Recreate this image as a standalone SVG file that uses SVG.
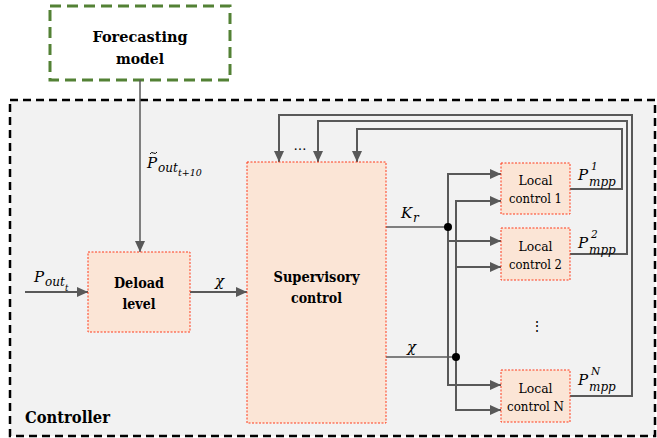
<svg xmlns="http://www.w3.org/2000/svg" width="657" height="438" viewBox="0 0 657 438">
  <style>
    .serif { font-family: "DejaVu Serif", "Liberation Serif", serif; fill: #000; }
    .title { font-family: "DejaVu Serif", "Liberation Serif", serif; font-weight: bold; font-size: 15px; fill: #000; text-anchor: middle; }
    .local { font-family: "DejaVu Serif", "Liberation Serif", serif; font-size: 13.5px; fill: #000; text-anchor: middle; }
    .math { font-family: "DejaVu Serif", "Liberation Serif", serif; font-style: italic; fill: #000; }
    .block { fill: #fbe5d6; stroke: #ff3b1a; stroke-width: 1; stroke-dasharray: 2 1.5; }
    .wire { fill: none; stroke: #595959; stroke-width: 2; }
    .thin { fill: none; stroke: #595959; stroke-width: 1.5; }
  </style>
  <defs>
    <marker id="arrow" markerUnits="userSpaceOnUse" markerWidth="12" markerHeight="12" viewBox="0 0 12 12" refX="11" refY="6" orient="auto">
      <path d="M0,1 L11,6 L0,11 Z" fill="#595959"/>
    </marker>
  </defs>

  <!-- controller frame -->
  <g id="controller">
    <rect x="10" y="100" width="645" height="336" fill="#f2f2f2" stroke="#000" stroke-width="2.5" stroke-dasharray="8 5"/>
    <text class="serif" x="25" y="423" font-weight="bold" font-size="16.5px" textLength="85" lengthAdjust="spacingAndGlyphs">Controller</text>
  </g>

  <!-- forecasting model -->
  <g id="forecasting">
    <rect x="50" y="6" width="180" height="74" fill="#fff" stroke="#538135" stroke-width="3" stroke-dasharray="11 6"/>
    <text class="title" x="140" y="42" font-size="15.5px" textLength="95" lengthAdjust="spacingAndGlyphs">Forecasting</text>
    <text class="title" x="140" y="64" font-size="15.5px" textLength="48" lengthAdjust="spacingAndGlyphs">model</text>
  </g>

  <!-- connectors -->
  <g id="connectors">
    <!-- forecast into deload -->
    <line class="thin" x1="140" y1="80" x2="140" y2="252" marker-end="url(#arrow)"/>
    <!-- measured output power -->
    <line class="wire" x1="25" y1="292" x2="88" y2="292" marker-end="url(#arrow)"/>
    <!-- deload level to supervisory -->
    <line class="wire" x1="190" y1="292" x2="247" y2="292" marker-end="url(#arrow)"/>
    <!-- MPP feedback loops -->
    <polyline class="wire" points="570,396 632,396 632,115 279,115 279,162" marker-end="url(#arrow)"/>
    <polyline class="wire" points="570,254 627,254 627,121 318,121 318,162" marker-end="url(#arrow)"/>
    <polyline class="wire" points="570,189 622,189 622,129 357,129 357,162" marker-end="url(#arrow)"/>
    <!-- K_r distribution bus -->
    <line class="thin" x1="386" y1="227" x2="448" y2="227"/>
    <line class="wire" x1="448" y1="174" x2="448" y2="385"/>
    <line class="wire" x1="447" y1="174" x2="501" y2="174" marker-end="url(#arrow)"/>
    <line class="wire" x1="448" y1="241" x2="501" y2="241" marker-end="url(#arrow)"/>
    <line class="wire" x1="447" y1="385" x2="501" y2="385" marker-end="url(#arrow)"/>
    <circle cx="448" cy="227" r="4" fill="#000"/>
    <!-- chi distribution bus -->
    <line class="thin" x1="386" y1="357" x2="456" y2="357"/>
    <line class="wire" x1="456" y1="201" x2="456" y2="410"/>
    <line class="wire" x1="455" y1="201" x2="501" y2="201" marker-end="url(#arrow)"/>
    <line class="wire" x1="456" y1="267" x2="501" y2="267" marker-end="url(#arrow)"/>
    <line class="wire" x1="455" y1="410" x2="501" y2="410" marker-end="url(#arrow)"/>
    <circle cx="456" cy="357" r="4" fill="#000"/>
  </g>

  <!-- deload level -->
  <g id="deload">
    <rect class="block" x="88" y="252" width="102" height="80"/>
    <text class="title" x="139" y="288" textLength="50" lengthAdjust="spacingAndGlyphs">Deload</text>
    <text class="title" x="139" y="309" textLength="33" lengthAdjust="spacingAndGlyphs">level</text>
  </g>

  <!-- supervisory control -->
  <g id="supervisory">
    <rect class="block" x="247" y="162" width="139" height="261"/>
    <text class="title" x="316.5" y="282" textLength="86" lengthAdjust="spacingAndGlyphs">Supervisory</text>
    <text class="title" x="316.5" y="303" textLength="51" lengthAdjust="spacingAndGlyphs">control</text>
  </g>

  <!-- local controllers -->
  <g id="local1">
    <rect class="block" x="501" y="163" width="69" height="51"/>
    <text class="local" x="535.5" y="185" textLength="34" lengthAdjust="spacingAndGlyphs">Local</text>
    <text class="local" x="535.5" y="203" textLength="53" lengthAdjust="spacingAndGlyphs">control 1</text>
  </g>
  <g id="local2">
    <rect class="block" x="501" y="228" width="69" height="52"/>
    <text class="local" x="535.5" y="251" textLength="34" lengthAdjust="spacingAndGlyphs">Local</text>
    <text class="local" x="535.5" y="269" textLength="53" lengthAdjust="spacingAndGlyphs">control 2</text>
  </g>
  <g id="localN">
    <rect class="block" x="501" y="370" width="69" height="52"/>
    <text class="local" x="535.5" y="393" textLength="34" lengthAdjust="spacingAndGlyphs">Local</text>
    <text class="local" x="535.5" y="411" textLength="57" lengthAdjust="spacingAndGlyphs">control N</text>
  </g>

  <!-- signal labels -->
  <g id="labels">
    <!-- forecast power; tilde accent drawn as a small stroke -->
    <path d="M150,154 q1.5,-2.5 3.5,-1 q2,1.5 3.5,-1" fill="none" stroke="#000" stroke-width="1"/>
    <text class="math" x="147" y="168" font-size="15px">P</text>
    <text class="math" x="158" y="172" font-size="12px">out</text>
    <text class="math" x="178" y="176" font-size="9.5px">t+10</text>

    <text class="math" x="34" y="282" font-size="15px">P</text>
    <text class="math" x="45" y="286" font-size="12px">out</text>
    <text class="math" x="65" y="291" font-size="8.5px">t</text>

    <text class="math" x="215" y="286" font-size="15px">χ</text>
    <text class="math" x="407" y="352" font-size="15px">χ</text>

    <text class="math" x="401" y="218" font-size="15px">K</text>
    <text class="math" x="413" y="222" font-size="12px">r</text>

    <text class="math" x="578" y="180" font-size="15px">P</text>
    <text class="math" x="591" y="170" font-size="10.5px">1</text>
    <text class="math" x="589" y="186" font-size="12px">mpp</text>

    <text class="math" x="578" y="248" font-size="15px">P</text>
    <text class="math" x="591" y="238" font-size="10.5px">2</text>
    <text class="math" x="589" y="254" font-size="12px">mpp</text>

    <text class="math" x="578" y="385" font-size="15px">P</text>
    <text class="math" x="591" y="375" font-size="10.5px">N</text>
    <text class="math" x="589" y="391" font-size="12px">mpp</text>

    <text class="serif" x="300" y="150" font-size="13px" text-anchor="middle">…</text>
    <text class="serif" x="537" y="331" font-size="14px" text-anchor="middle">⋮</text>
  </g>
</svg>
